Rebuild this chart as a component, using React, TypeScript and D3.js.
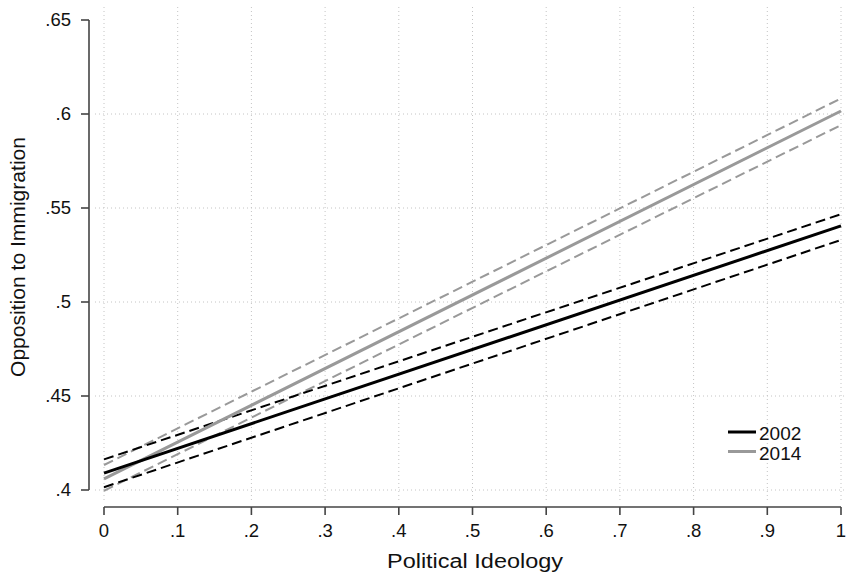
import React from "react";
import * as d3 from "d3";

const xEnds = [0, 1];
const fit2002 = [0.409, 0.5405];
const lo2002 = [0.4015, 0.533];
const hi2002 = [0.4163, 0.5467];
const fit2014 = [0.4059, 0.6016];
const lo2014 = [0.3996, 0.5941];
const hi2014 = [0.4133, 0.6083];
const yTicks = [0.4, 0.45, 0.5, 0.55, 0.6, 0.65];
const yTickLabels = [".4", ".45", ".5", ".55", ".6", ".65"];
const xTicks = [0, 0.1, 0.2, 0.3, 0.4, 0.5, 0.6, 0.7, 0.8, 0.9, 1];
const xTickLabels = ["0", ".1", ".2", ".3", ".4", ".5", ".6", ".7", ".8", ".9", "1"];
const legendLabels = ["2002", "2014"];

const W = 846;
const H = 573;
const FONT = "'Liberation Sans', Arial, Helvetica, sans-serif";

export default function App() {
  const x = d3.scaleLinear().domain([0, 1]).range([104, 841]);
  const y = d3.scaleLinear().domain([0.4, 0.65]).range([490, 20]);
  const line = d3
    .line<[number, number]>()
    .x((d) => x(d[0]))
    .y((d) => y(d[1]));
  const mk = (vals: number[]) => line(xEnds.map((v, i) => [v, vals[i]] as [number, number])) || "";

  const black = "#000";
  const gray = "#999";
  const axisColor = "#444";
  const gridColor = "#c4c4c4";

  return (
    <svg
      width={W}
      height={H}
      style={{ position: "absolute", left: 0, top: 0, background: "#fff" }}
      fontFamily={FONT}
    >
      <rect x={0} y={0} width={W} height={H} fill="#fff" />
      {/* grid */}
      {xTicks.map((t, i) => (
        <line
          key={"gx" + i}
          x1={x(t)}
          x2={x(t)}
          y1={7}
          y2={500}
          stroke={gridColor}
          strokeWidth={1}
          strokeDasharray="1,3"
        />
      ))}
      {yTicks
        .filter((t) => t < 0.64)
        .map((t, i) => (
          <line
            key={"gy" + i}
            x1={95}
            x2={845}
            y1={y(t)}
            y2={y(t)}
            stroke={gridColor}
            strokeWidth={1}
            strokeDasharray="1,3"
          />
        ))}
      {/* y axis */}
      <line x1={89} x2={89} y1={y(0.65)} y2={y(0.4)} stroke={axisColor} strokeWidth={1.6} />
      {yTicks.map((t, i) => (
        <g key={"yt" + i}>
          <line x1={81} x2={89} y1={y(t)} y2={y(t)} stroke={axisColor} strokeWidth={1.6} />
          <text x={71} y={y(t) + 6.3} textAnchor="end" fontSize={18.5} fill="#111">
            {yTickLabels[i]}
          </text>
        </g>
      ))}
      {/* x axis */}
      <line x1={x(0)} x2={x(1)} y1={507} y2={507} stroke={axisColor} strokeWidth={1.6} />
      {xTicks.map((t, i) => (
        <g key={"xt" + i}>
          <line x1={x(t)} x2={x(t)} y1={507} y2={515} stroke={axisColor} strokeWidth={1.6} />
          <text x={x(t)} y={537} textAnchor="middle" fontSize={18.5} fill="#111">
            {xTickLabels[i]}
          </text>
        </g>
      ))}
      {/* titles */}
      <text
        x={475}
        y={568}
        textAnchor="middle"
        fontSize={20}
        fill="#111"
        textLength={176}
        lengthAdjust="spacingAndGlyphs"
      >
        Political Ideology
      </text>
      <text
        transform="translate(25,257) rotate(-90)"
        textAnchor="middle"
        fontSize={20}
        fill="#111"
        textLength={240}
        lengthAdjust="spacingAndGlyphs"
      >
        Opposition to Immigration
      </text>
      {/* lines */}
      <path d={mk(hi2014)} fill="none" stroke={gray} strokeWidth={2} strokeDasharray="10,5" />
      <path d={mk(lo2014)} fill="none" stroke={gray} strokeWidth={2} strokeDasharray="10,5" />
      <path d={mk(hi2002)} fill="none" stroke={black} strokeWidth={2} strokeDasharray="10,5" />
      <path d={mk(lo2002)} fill="none" stroke={black} strokeWidth={2} strokeDasharray="10,5" />
      <path d={mk(fit2014)} fill="none" stroke={gray} strokeWidth={3} />
      <path d={mk(fit2002)} fill="none" stroke={black} strokeWidth={3} />
      {/* legend */}
      {legendLabels.map((lab, i) => (
        <g key={"lg" + i}>
          <line
            x1={728}
            x2={756}
            y1={432 + i * 19.5}
            y2={432 + i * 19.5}
            stroke={i === 0 ? black : gray}
            strokeWidth={3}
          />
          <text x={759} y={439.5 + i * 20} fontSize={19} fill="#111">
            {lab}
          </text>
        </g>
      ))}
    </svg>
  );
}
